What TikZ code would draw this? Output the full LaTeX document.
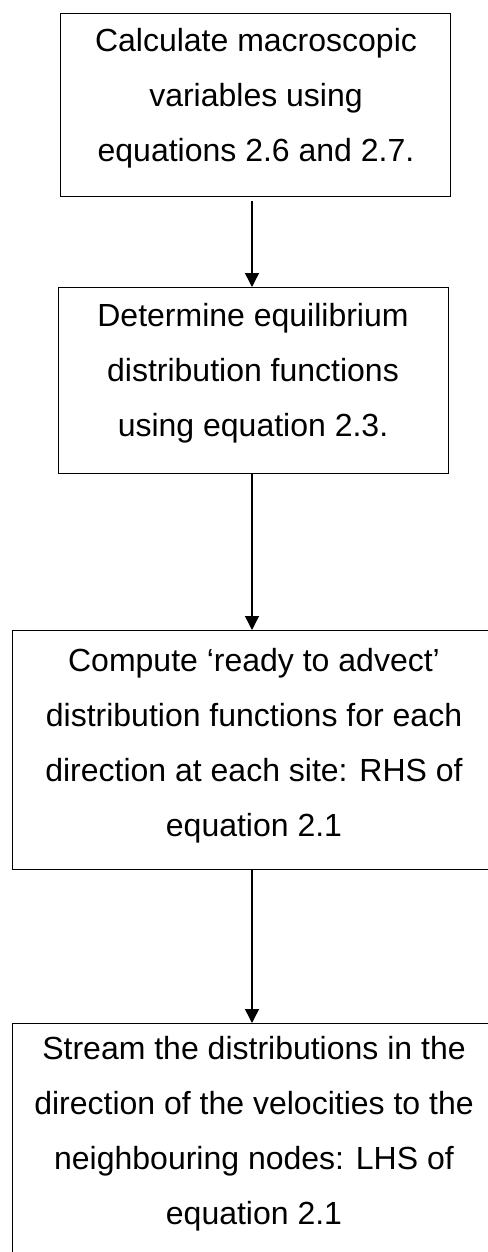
\documentclass[tikz,border=0pt]{standalone}
\usepackage{fontspec}
\setmainfont{Liberation Sans}
\usetikzlibrary{arrows.meta}
\begin{document}
\begin{tikzpicture}[x=1pt,y=1pt,
  box/.style={draw=black, line width=1.4pt, rectangle, inner sep=0pt, anchor=north west},
  txt/.style={align=center, inner sep=0pt, font=\fontsize{32}{55}\selectfont},
  arr/.style={draw=black, line width=1.4pt, -{Triangle[width=14pt,length=14pt]}}]
\useasboundingbox (0,0) rectangle (487,-1252);
\fill[white] (0,0) rectangle (487,-1252);
\node[box, minimum width=390, minimum height=183] (b1) at (60,-13) {};
\node[box, minimum width=390, minimum height=186] (b2) at (58,-287) {};
\node[box, minimum width=484, minimum height=239] (b3) at (12,-630) {};
\node[box, minimum width=484, minimum height=236] (b4) at (12,-1023) {};
\node[txt] (t1) at (256,-98) {Calculate macroscopic\\variables using\\equations 2.6 and 2.7.};
\node[txt] (t2) at (253,-373) {Determine equilibrium\\distribution functions\\using equation 2.3.};
\node[txt] (t3) at (254,-746) {Compute ‘ready to advect’\\distribution functions for each\\direction at each site: RHS of\\equation 2.1};
\node[txt] (t4) at (254,-1134) {Stream the distributions in the\\direction of the velocities to the\\neighbouring nodes: LHS of\\equation 2.1};
\coordinate (ax) at (252,0);
\draw[arr] ([yshift=-4pt]b1.south -| ax) -- (b2.north -| ax);
\draw[arr] (b2.south -| ax) -- (b3.north -| ax);
\draw[arr] (b3.south -| ax) -- (b4.north -| ax);
\end{tikzpicture}
\end{document}
